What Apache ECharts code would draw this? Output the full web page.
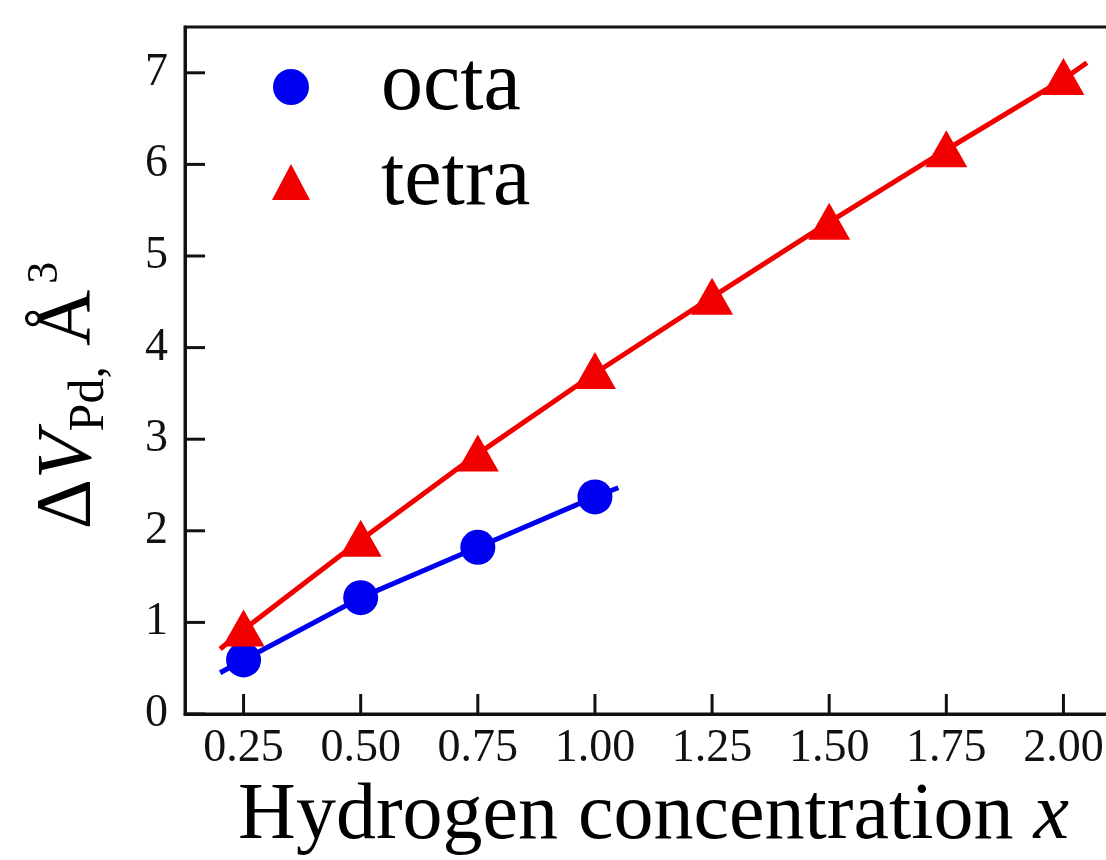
<!DOCTYPE html>
<html>
<head>
<meta charset="utf-8">
<title>Delta V Pd</title>
<script src="https://cdn.jsdelivr.net/npm/echarts@6/dist/echarts.min.js"></script>
<style>
  html, body { margin: 0; padding: 0; background: #fff; }
  #main { width: 1106px; height: 860px; }
</style>
</head>
<body>
<div id="main"></div>
<script>
var serif = 'Liberation Serif';

// concentrations x
var xTicks = [0.25, 0.5, 0.75, 1.0, 1.25, 1.5, 1.75, 2.0];
var yTicks = [0, 1, 2, 3, 4, 5, 6, 7];
var xMin = 0.125, xMax = 2.125;
var yMin = 0, yMax = 7.5;

// octa points
var octaX = [0.25, 0.5, 0.75, 1.0];
var octaY = [0.59, 1.27, 1.82, 2.37];

// tetra points
var tetraX = [0.25, 0.5, 0.75, 1.0, 1.25, 1.5, 1.75, 2.0];
var tetraY = [0.94, 1.92, 2.85, 3.75, 4.56, 5.38, 6.17, 6.96];

// guide lines
var octaLineX = [0.2, 0.25, 0.5, 0.75, 1.0, 1.05];
var octaLineY = [0.45, 0.59, 1.27, 1.82, 2.37, 2.47];
var tetraLineX = [0.2, 0.25, 0.5, 0.75, 1.0, 1.25, 1.5, 1.75, 2.0, 2.05];
var tetraLineY = [0.71, 0.92, 1.90, 2.84, 3.72, 4.55, 5.37, 6.16, 6.93, 7.11];

function pairs(xs, ys) {
    return xs.map(function (x, i) { return [x, ys[i]]; });
}

var blue = '#0000f0';
var red = '#f20000';
var TICK = 20;

var myChart = echarts.init(document.getElementById('main'));

var option = {
    animation: false,
    backgroundColor: '#fff',
    grid: {
        left: 185, top: 27, width: 937, height: 687,
        show: true, backgroundColor: 'transparent', borderColor: '#111', borderWidth: 3,
        outerBoundsMode: 'none'
    },
    legend: {
        orient: 'vertical',
        left: 272, top: 45, padding: 0,
        itemWidth: 38, itemHeight: 36, itemGap: 11,
        data: [
            { name: 'octa', icon: 'circle' },
            { name: 'tetra', icon: 'triangle' }
        ],
        formatter: function (name) { return '{g|}' + name; },
        textStyle: {
            fontFamily: serif, fontSize: 84, color: '#000', lineHeight: 84,
            rich: { g: { width: 66 } }
        }
    },
    xAxis: {
        type: 'value',
        min: xMin, max: xMax,
        name: 'Hydrogen concentration {i|x}',
        nameLocation: 'middle', nameGap: 56,
        nameTextStyle: {
            fontFamily: serif, fontSize: 80, color: '#000',
            rich: { i: { fontFamily: serif, fontSize: 80, fontStyle: 'italic', color: '#000' } }
        },
        axisLine: { show: true, lineStyle: { color: '#111', width: 3 } },
        axisTick: { show: false },
        axisLabel: {
            show: true, customValues: xTicks, margin: 12,
            fontFamily: serif, fontSize: 46, color: '#111',
            formatter: function (v) { return v.toFixed(2); }
        },
        splitLine: { show: false }
    },
    yAxis: {
        type: 'value',
        min: yMin, max: yMax,
        name: '{d|Δ}{v|V}{s|Pd,}  {d|Å}{p|3}',
        nameLocation: 'middle', nameGap: 70, nameRotate: 90,
        nameTextStyle: {
            fontFamily: serif, fontSize: 40, color: '#000', padding: [0, 50, 0, 0],
            rich: {
                d: { fontFamily: serif, fontSize: 78, lineHeight: 92, color: '#000' },
                v: { fontFamily: serif, fontSize: 78, lineHeight: 92, fontStyle: 'italic', color: '#000' },
                s: { fontFamily: serif, fontSize: 50, lineHeight: 18, verticalAlign: 'bottom', color: '#000' },
                p: { fontFamily: serif, fontSize: 44, lineHeight: 34, verticalAlign: 'top', color: '#000', padding: [0, 0, 0, 6] }
            }
        },
        axisLine: { show: true, lineStyle: { color: '#111', width: 3 } },
        axisTick: { show: false },
        axisLabel: {
            show: true, customValues: yTicks, margin: 17,
            fontFamily: serif, fontSize: 46, color: '#111'
        },
        splitLine: { show: false }
    },
    series: [
        {
            name: 'octa line', type: 'line', data: pairs(octaLineX, octaLineY),
            showSymbol: false, lineStyle: { color: blue, width: 5 }, z: 2
        },
        {
            name: 'tetra line', type: 'line', data: pairs(tetraLineX, tetraLineY),
            showSymbol: false, lineStyle: { color: red, width: 5 }, z: 2
        },
        {
            name: 'octa', type: 'scatter', data: pairs(octaX, octaY),
            symbol: 'circle', symbolSize: 35, itemStyle: { color: blue, opacity: 1 }, z: 3
        },
        {
            name: 'tetra', type: 'scatter', data: pairs(tetraX, tetraY),
            symbol: 'triangle', symbolSize: [42, 37], itemStyle: { color: red, opacity: 1 }, z: 3
        }
    ]
};

myChart.setOption(option);

// inner tick marks: positions come from the chart's own scales
var tickEls = [];
xTicks.forEach(function (v) {
    var p = myChart.convertToPixel({ gridIndex: 0 }, [v, yMin]);
    tickEls.push({
        type: 'line', z: 100, silent: true,
        shape: { x1: p[0], y1: p[1], x2: p[0], y2: p[1] - TICK },
        style: { stroke: '#111', lineWidth: 3 }
    });
});
yTicks.forEach(function (v) {
    var p = myChart.convertToPixel({ gridIndex: 0 }, [xMin, v]);
    tickEls.push({
        type: 'line', z: 100, silent: true,
        shape: { x1: p[0], y1: p[1], x2: p[0] + TICK, y2: p[1] },
        style: { stroke: '#111', lineWidth: 3 }
    });
});
myChart.setOption({ graphic: { elements: tickEls } });
</script>
</body>
</html>
